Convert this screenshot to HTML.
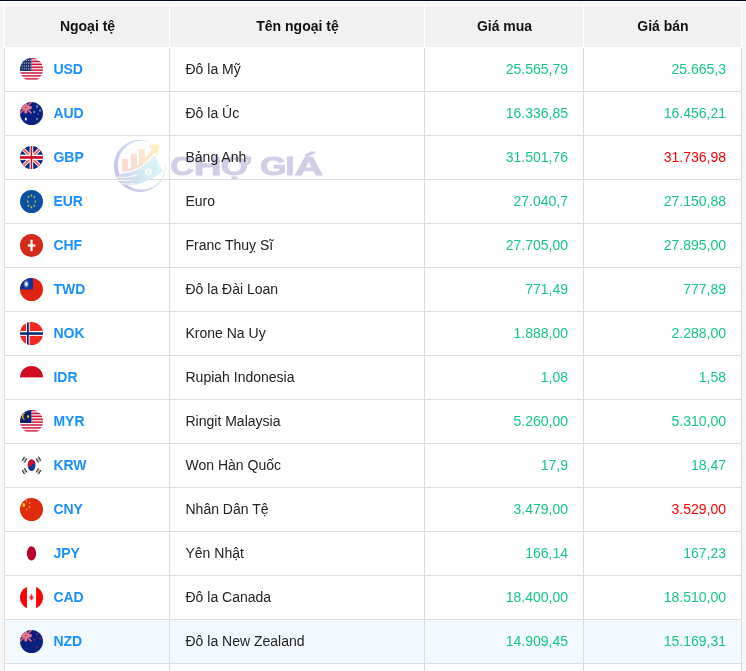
<!DOCTYPE html>
<html lang="vi">
<head>
<meta charset="utf-8">
<title>Tỷ giá ngoại tệ</title>
<style>
html,body{margin:0;padding:0;}
body{width:746px;height:671px;overflow:hidden;background:#f6f6f6;font-family:"Liberation Sans",Arial,sans-serif;font-size:14px;color:#222;position:relative;}
.topbar{position:absolute;left:0;top:0;width:746px;height:1px;background:#000c1e;}
.topbar:after{content:"";position:absolute;left:0;top:1px;width:746px;height:1px;background:#fff;}
.wrap{position:absolute;left:4px;top:5px;width:738px;height:666px;background:#fff;overflow:visible;}
.hdr,.row{display:flex;box-sizing:border-box;width:738px;}
.hdr{height:43px;}
.row{height:44px;}
.c{box-sizing:border-box;height:100%;}
.hdr .c{background:#f1f1f1;border:1px solid #fff;border-right:none;font-weight:bold;color:#111;text-align:center;line-height:41px;}
.hdr .c4{border-right:1px solid #fff;}
.hdr .c{padding-left:1px;}
.row .c{border-left:1px solid #ddd;border-bottom:1px solid #ddd;line-height:43px;padding:0 15px;white-space:nowrap;}
.row .c2{padding-left:15.5px;}
.row .c4{border-right:1px solid #ddd;}
.c1{width:165px;}
.c2{width:255px;}
.c3{width:159px;}
.c4{width:159px;}
.row .c3,.row .c4{text-align:right;}
.row .c1{display:flex;align-items:center;}
.flag{display:block;width:23px;height:23px;flex:none;margin-right:10.4px;border-radius:50%;overflow:hidden;}
.flag svg{display:block;width:23px;height:23px;}
.code{font-weight:bold;color:#1890ff;}
.g{color:#16c784;}
.r{color:#ff0000;}
.hl .c{background:#f2f9ff;}
.wm{position:absolute;left:-4px;top:-5px;pointer-events:none;z-index:0;}
.hdr,.row{position:relative;z-index:1;}
</style>
</head>
<body>
<div class="topbar"></div>
<div class="wrap">
<svg class="wm" width="746" height="671" viewBox="0 0 746 671"><defs><linearGradient id="wg1" gradientUnits="userSpaceOnUse" x1="116" y1="178" x2="160" y2="150"><stop offset="0" stop-color="#c8c5e5"/><stop offset="0.5" stop-color="#cdd8ee"/><stop offset="1" stop-color="#cbeff4"/></linearGradient><linearGradient id="wg2" gradientUnits="userSpaceOnUse" x1="122" y1="172" x2="160" y2="145"><stop offset="0" stop-color="#fbd2d4"/><stop offset="0.5" stop-color="#fde3d0"/><stop offset="1" stop-color="#fff2c4"/></linearGradient><linearGradient id="wg3" gradientUnits="userSpaceOnUse" x1="116" y1="180" x2="160" y2="165"><stop offset="0" stop-color="#cfcbe9"/><stop offset="0.45" stop-color="#d2e6f3"/><stop offset="1" stop-color="#d6f2f6"/></linearGradient></defs><path fill-rule="evenodd" fill="url(#wg1)" d="M113.75 165.90 a26.1 26.1 0 1 0 52.20 0 a26.1 26.1 0 1 0 -52.20 0Z M117.75 165.20 a23.9 24.4 0 1 0 47.8 0 a23.9 24.4 0 1 0 -47.8 0Z"/><path d="M150.10 142.88 A25.2 25.2 0 0 1 164.91 163.27" stroke="#fff" stroke-width="3.4" fill="none" stroke-linecap="round"/><path fill="url(#wg2)" d="M122.3 159.1 H128.1 V169.3 L130.8 168.6 V153.9 H137 V166.3 L138.8 165.3 V149 H144.8 V158.2 Q149 154.6 151.9 149.6 L148.9 145.3 L160 144 L157.6 155.8 L154.7 153 Q148.5 160.6 142 165.6 Q133 171.8 122.3 171.9Z"/><path fill="url(#wg3)" d="M154.7 155.2 L162.3 171.5 Q152 180.5 136 184.6 Q126 186.3 118.6 181.6 L116.6 177.4 Q118 174.4 122.5 173.4 Q134 172.6 142.6 166.8 Q149 161.6 154.7 155.2Z"/><path d="M116.9 177.2 Q126 178.6 136.5 175.2" stroke="#fff" stroke-width="0.9" fill="none"/><path d="M118.2 180.4 Q127 181.6 135.6 179.4" stroke="#fff" stroke-width="0.9" fill="none"/><path d="M121 183.6 Q128 184.8 134 183.4" stroke="#fff" stroke-width="0.7" fill="none"/><path d="M140.5 170.4 Q148.5 165.6 154.2 158.6 L159.9 171 Q152 177 142.5 180.3" stroke="#fff" stroke-width="0.8" stroke-dasharray="1.2 0.9" fill="none" opacity="0.95"/><path d="M144 170.2 Q149.5 166.4 153.4 161.6" stroke="#fff" stroke-width="0.6" stroke-dasharray="0.9 0.9" fill="none" opacity="0.8"/><circle cx="148.3" cy="171.8" r="3.5" fill="#fbfdfb"/><text x="148.3" y="173.8" font-family="Liberation Sans,Arial,sans-serif" font-weight="bold" font-size="5.6" text-anchor="middle" fill="#d9eecf">$</text><text class="wmt" y="175.4" font-family="Liberation Sans,Arial,sans-serif" font-weight="bold" font-size="26.3" fill="#d0cee5" stroke="#d0cee5" stroke-width="0.8" stroke-linejoin="round" xml:space="preserve"><tspan x="170.25" textLength="23.85" lengthAdjust="spacingAndGlyphs">C</tspan><tspan x="193.80" textLength="27.91" lengthAdjust="spacingAndGlyphs">H</tspan><tspan x="220.70" textLength="29.87" lengthAdjust="spacingAndGlyphs">Ợ</tspan><tspan x="250.0"> </tspan><tspan x="260.02" textLength="26.68" lengthAdjust="spacingAndGlyphs">G</tspan><tspan x="285.31" textLength="9.32" lengthAdjust="spacingAndGlyphs">I</tspan><tspan x="294.51" textLength="28.62" lengthAdjust="spacingAndGlyphs">Á</tspan></text></svg>
<div class="hdr"><div class="c c1">Ngoại tệ</div><div class="c c2">Tên ngoại tệ</div><div class="c c3">Giá mua</div><div class="c c4">Giá bán</div></div>
<div class="row"><div class="c c1"><span class="flag"><svg viewBox="0 0 23 23" width="23" height="23"><rect width="23" height="23" fill="#fff"/><rect x="11.4" y="0" width="11.6" height="13.4" fill="#f6d3d9"/><rect x="11.4" y="-0.15" width="11.6" height="1.35" fill="#cc1236"/><rect x="11.4" y="2.75" width="11.6" height="1.35" fill="#cc1236"/><rect x="11.4" y="5.65" width="11.6" height="1.35" fill="#cc1236"/><rect x="11.4" y="8.55" width="11.6" height="1.35" fill="#cc1236"/><rect x="11.4" y="11.45" width="11.6" height="1.35" fill="#cc1236"/><rect x="0" y="14.10" width="23" height="1.8" fill="#d33c58"/><rect x="0" y="17.00" width="23" height="1.8" fill="#d33c58"/><rect x="0" y="19.90" width="23" height="1.8" fill="#d33c58"/><rect x="0" y="0" width="11.4" height="13" fill="#1b2f6e"/><rect x="1.85" y="1.70" width="0.9" height="1.4" fill="#fff" opacity="0.62"/><rect x="3.85" y="1.70" width="0.9" height="1.4" fill="#fff" opacity="0.62"/><rect x="5.95" y="1.70" width="0.9" height="1.4" fill="#fff" opacity="0.62"/><rect x="7.95" y="1.70" width="0.9" height="1.4" fill="#fff" opacity="0.62"/><rect x="9.75" y="1.70" width="0.9" height="1.4" fill="#fff" opacity="0.62"/><rect x="1.85" y="4.50" width="0.9" height="1.4" fill="#fff" opacity="0.62"/><rect x="3.85" y="4.50" width="0.9" height="1.4" fill="#fff" opacity="0.62"/><rect x="5.95" y="4.50" width="0.9" height="1.4" fill="#fff" opacity="0.62"/><rect x="7.95" y="4.50" width="0.9" height="1.4" fill="#fff" opacity="0.62"/><rect x="9.75" y="4.50" width="0.9" height="1.4" fill="#fff" opacity="0.62"/><rect x="1.85" y="7.30" width="0.9" height="1.4" fill="#fff" opacity="0.62"/><rect x="3.85" y="7.30" width="0.9" height="1.4" fill="#fff" opacity="0.62"/><rect x="5.95" y="7.30" width="0.9" height="1.4" fill="#fff" opacity="0.62"/><rect x="7.95" y="7.30" width="0.9" height="1.4" fill="#fff" opacity="0.62"/><rect x="9.75" y="7.30" width="0.9" height="1.4" fill="#fff" opacity="0.62"/><rect x="1.85" y="10.10" width="0.9" height="1.4" fill="#fff" opacity="0.62"/><rect x="3.85" y="10.10" width="0.9" height="1.4" fill="#fff" opacity="0.62"/><rect x="5.95" y="10.10" width="0.9" height="1.4" fill="#fff" opacity="0.62"/><rect x="7.95" y="10.10" width="0.9" height="1.4" fill="#fff" opacity="0.62"/><rect x="9.75" y="10.10" width="0.9" height="1.4" fill="#fff" opacity="0.62"/></svg></span><a class="code">USD</a></div><div class="c c2">Đô la Mỹ</div><div class="c c3 g">25.565,79</div><div class="c c4 g">25.665,3</div></div>
<div class="row"><div class="c c1"><span class="flag"><svg viewBox="0 0 23 23" width="23" height="23"><rect width="23" height="23" fill="#0a2081"/><g opacity="0.95"><path d="M0 0 L11.5 11.3 M11.5 0 L0 11.3" stroke="#e8607a" stroke-width="1.7" fill="none"/><rect x="0" y="4.1" width="11.5" height="3.1" fill="#f59aa4"/><rect x="4.5" y="0" width="2.6" height="11.3" fill="#f59aa4"/><rect x="0" y="5.0" width="11.5" height="1.3" fill="#ef6f83"/><rect x="5.2" y="0" width="1.2" height="11.3" fill="#ef6f83"/><ellipse cx="5.8" cy="5.6" rx="0.9" ry="1.0" fill="#e33c5c"/></g><ellipse cx="5.8" cy="17.0" rx="1.0" ry="1.6" fill="#fff"/><ellipse cx="17" cy="4.4" rx="0.9" ry="1.3" fill="#fff" opacity="0.5"/><ellipse cx="20.1" cy="8.5" rx="0.9" ry="1.3" fill="#fff" opacity="0.5"/><ellipse cx="14.3" cy="10" rx="0.9" ry="1.3" fill="#fff" opacity="0.5"/><ellipse cx="18.4" cy="12.1" rx="0.55" ry="0.8" fill="#fff" opacity="0.35"/><ellipse cx="17" cy="17" rx="0.9" ry="1.3" fill="#fff" opacity="0.5"/></svg></span><a class="code">AUD</a></div><div class="c c2">Đô la Úc</div><div class="c c3 g">16.336,85</div><div class="c c4 g">16.456,21</div></div>
<div class="row"><div class="c c1"><span class="flag"><svg viewBox="0 0 23 23" width="23" height="23"><rect width="23" height="23" fill="#0a2580"/><path d="M0 0 L23 23 M23 0 L0 23" stroke="#fff" stroke-width="3.7" fill="none"/><path d="M0 0 L23 23 M23 0 L0 23" stroke="#e6614f" stroke-width="1.9" fill="none"/><rect x="0" y="8.7" width="23" height="5.4" fill="#fff"/><rect x="9.6" y="0" width="3.6" height="23" fill="#fff"/><rect x="0" y="10.1" width="23" height="2.7" fill="#d00c27"/><rect x="10.7" y="0" width="1.5" height="23" fill="#d00c27"/></svg></span><a class="code">GBP</a></div><div class="c c2">Bảng Anh</div><div class="c c3 g">31.501,76</div><div class="c c4 r">31.736,98</div></div>
<div class="row"><div class="c c1"><span class="flag"><svg viewBox="0 0 23 23" width="23" height="23"><rect width="23" height="23" fill="#0b50a4"/><ellipse cx="11.4" cy="5.6" rx="0.8" ry="1.25" fill="#b4c33c" opacity="0.9"/><ellipse cx="8.5" cy="6.95" rx="0.8" ry="1.25" fill="#b4c33c" opacity="0.9"/><ellipse cx="14.3" cy="6.95" rx="0.8" ry="1.25" fill="#b4c33c" opacity="0.9"/><ellipse cx="7.7" cy="11.4" rx="0.8" ry="1.25" fill="#b4c33c" opacity="0.9"/><ellipse cx="15.3" cy="11.4" rx="0.8" ry="1.25" fill="#b4c33c" opacity="0.9"/><ellipse cx="8.5" cy="15.7" rx="0.8" ry="1.25" fill="#b4c33c" opacity="0.9"/><ellipse cx="14.3" cy="15.7" rx="0.8" ry="1.25" fill="#b4c33c" opacity="0.9"/><ellipse cx="11.4" cy="17.2" rx="0.8" ry="1.25" fill="#b4c33c" opacity="0.9"/></svg></span><a class="code">EUR</a></div><div class="c c2">Euro</div><div class="c c3 g">27.040,7</div><div class="c c4 g">27.150,88</div></div>
<div class="row"><div class="c c1"><span class="flag"><svg viewBox="0 0 23 23" width="23" height="23"><rect width="23" height="23" fill="#d7291a"/><rect x="10.4" y="5.8" width="2.2" height="11.4" fill="#fff"/><rect x="7.8" y="10.4" width="7.5" height="2.2" fill="#fff"/></svg></span><a class="code">CHF</a></div><div class="c c2">Franc Thuỵ Sĩ</div><div class="c c3 g">27.705,00</div><div class="c c4 g">27.895,00</div></div>
<div class="row"><div class="c c1"><span class="flag"><svg viewBox="0 0 23 23" width="23" height="23"><rect width="23" height="23" fill="#e0220f"/><rect x="0" y="0" width="13" height="11.4" fill="#0a32a0"/><ellipse cx="6.3" cy="6.0" rx="2.5" ry="3.7" fill="#8fa8d8" opacity="0.45"/><ellipse cx="6.3" cy="6.0" rx="1.8" ry="2.6" fill="#c8d6ee" opacity="0.6"/><ellipse cx="6.3" cy="6.0" rx="1.2" ry="1.7" fill="#fff"/></svg></span><a class="code">TWD</a></div><div class="c c2">Đô la Đài Loan</div><div class="c c3 g">771,49</div><div class="c c4 g">777,89</div></div>
<div class="row"><div class="c c1"><span class="flag"><svg viewBox="0 0 23 23" width="23" height="23"><rect width="23" height="23" fill="#f12a21"/><rect x="6.0" y="0" width="3.6" height="23" fill="#fff"/><rect x="0" y="9.0" width="23" height="4.9" fill="#fff"/><rect x="6.95" y="0" width="1.75" height="23" fill="#06236b"/><rect x="0" y="10.3" width="23" height="2.5" fill="#06236b"/></svg></span><a class="code">NOK</a></div><div class="c c2">Krone Na Uy</div><div class="c c3 g">1.888,00</div><div class="c c4 g">2.288,00</div></div>
<div class="row"><div class="c c1"><span class="flag"><svg viewBox="0 0 23 23" width="23" height="23"><rect width="23" height="23" fill="#fff"/><rect width="23" height="11.4" fill="#ce0b1f"/></svg></span><a class="code">IDR</a></div><div class="c c2">Rupiah Indonesia</div><div class="c c3 g">1,08</div><div class="c c4 g">1,58</div></div>
<div class="row"><div class="c c1"><span class="flag"><svg viewBox="0 0 23 23" width="23" height="23"><rect width="23" height="23" fill="#fff"/><rect x="11.4" y="0" width="11.6" height="13.4" fill="#f6d3d9"/><rect x="11.4" y="-0.15" width="11.6" height="1.35" fill="#cc1236"/><rect x="11.4" y="2.75" width="11.6" height="1.35" fill="#cc1236"/><rect x="11.4" y="5.65" width="11.6" height="1.35" fill="#cc1236"/><rect x="11.4" y="8.55" width="11.6" height="1.35" fill="#cc1236"/><rect x="11.4" y="11.45" width="11.6" height="1.35" fill="#cc1236"/><rect x="0" y="14.10" width="23" height="1.8" fill="#d33c58"/><rect x="0" y="17.00" width="23" height="1.8" fill="#d33c58"/><rect x="0" y="19.90" width="23" height="1.8" fill="#d33c58"/><rect x="0" y="0" width="11.4" height="13" fill="#0a1f6e"/><path d="M5.2 3.0 A2.6 3.6 0 1 0 5.2 10.0 A3.3 3.9 0 0 1 5.2 3.0Z" fill="#e9b90c"/><ellipse cx="8.1" cy="6.4" rx="1.1" ry="1.5" fill="#e9b90c"/></svg></span><a class="code">MYR</a></div><div class="c c2">Ringit Malaysia</div><div class="c c3 g">5.260,00</div><div class="c c4 g">5.310,00</div></div>
<div class="row"><div class="c c1"><span class="flag"><svg viewBox="0 0 23 23" width="23" height="23"><rect width="23" height="23" fill="#fff"/><ellipse cx="11.6" cy="11.25" rx="3.85" ry="5.85" fill="#0a3c95"/><path d="M7.76 11.7 A3.85 5.85 0 0 1 15.44 10.8 C14.7 9.0 12.7 9.3 11.6 11.25 C10.5 13.2 8.5 13.5 7.76 11.7Z" fill="#cf0a2c"/><path d="M1.60 6.25 L3.90 2.15 L7.40 4.95 L5.10 9.05Z" fill="#666" opacity="0.45"/><g stroke="#111" stroke-width="1.0" opacity="0.85" fill="none"><path d="M2.16 6.70 L4.46 2.60"/><path d="M4.54 8.60 L6.84 4.50"/></g><path d="M21.40 6.25 L19.10 2.15 L15.60 4.95 L17.90 9.05Z" fill="#666" opacity="0.45"/><g stroke="#111" stroke-width="1.0" opacity="0.85" fill="none"><path d="M20.84 6.70 L18.54 2.60"/><path d="M18.46 8.60 L16.16 4.50"/></g><path d="M1.60 16.55 L3.90 20.65 L7.40 17.85 L5.10 13.75Z" fill="#666" opacity="0.45"/><g stroke="#111" stroke-width="1.0" opacity="0.85" fill="none"><path d="M2.16 16.10 L4.46 20.20"/><path d="M4.54 14.20 L6.84 18.30"/></g><path d="M21.40 16.55 L19.10 20.65 L15.60 17.85 L17.90 13.75Z" fill="#666" opacity="0.45"/><g stroke="#111" stroke-width="1.0" opacity="0.85" fill="none"><path d="M20.84 16.10 L18.54 20.20"/><path d="M18.46 14.20 L16.16 18.30"/></g></svg></span><a class="code">KRW</a></div><div class="c c2">Won Hàn Quốc</div><div class="c c3 g">17,9</div><div class="c c4 g">18,47</div></div>
<div class="row"><div class="c c1"><span class="flag"><svg viewBox="0 0 23 23" width="23" height="23"><rect width="23" height="23" fill="#df2a10"/><ellipse cx="3.8" cy="7.0" rx="1.3" ry="1.9" fill="#ffd400"/><ellipse cx="6.7" cy="2.9" rx="0.8" ry="1.2" fill="#f59a0c" opacity="0.85"/><ellipse cx="9.6" cy="4.9" rx="0.8" ry="1.2" fill="#f59a0c" opacity="0.85"/><ellipse cx="9.6" cy="9.2" rx="0.8" ry="1.2" fill="#f59a0c" opacity="0.85"/><ellipse cx="6.7" cy="11.4" rx="0.8" ry="1.2" fill="#f59a0c" opacity="0.85"/></svg></span><a class="code">CNY</a></div><div class="c c2">Nhân Dân Tệ</div><div class="c c3 g">3.479,00</div><div class="c c4 r">3.529,00</div></div>
<div class="row"><div class="c c1"><span class="flag"><svg viewBox="0 0 23 23" width="23" height="23"><rect width="23" height="23" fill="#fff"/><ellipse cx="11.5" cy="11.45" rx="4.6" ry="7.15" fill="#bc002d"/></svg></span><a class="code">JPY</a></div><div class="c c2">Yên Nhật</div><div class="c c3 g">166,14</div><div class="c c4 g">167,23</div></div>
<div class="row"><div class="c c1"><span class="flag"><svg viewBox="0 0 23 23" width="23" height="23"><rect width="23" height="23" fill="#fff"/><rect width="6.95" height="23" fill="#ff0000"/><rect x="16.1" width="6.9" height="23" fill="#ff0000"/><path d="M11.45 7.6 L12.5 9.9 L13.7 11.2 L12.4 13.2 L11.45 14.6 L10.5 13.2 L9.2 11.2 L10.4 9.9Z" fill="#ff1a1a" stroke="#ff9a9a" stroke-width="0.6" stroke-linejoin="round"/></svg></span><a class="code">CAD</a></div><div class="c c2">Đô la Canada</div><div class="c c3 g">18.400,00</div><div class="c c4 g">18.510,00</div></div>
<div class="row hl"><div class="c c1"><span class="flag"><svg viewBox="0 0 23 23" width="23" height="23"><rect width="23" height="23" fill="#0a2081"/><g opacity="0.95"><path d="M0 0 L11.5 11.3 M11.5 0 L0 11.3" stroke="#e8607a" stroke-width="1.7" fill="none"/><rect x="0" y="4.1" width="11.5" height="3.1" fill="#f59aa4"/><rect x="4.5" y="0" width="2.6" height="11.3" fill="#f59aa4"/><rect x="0" y="5.0" width="11.5" height="1.3" fill="#ef6f83"/><rect x="5.2" y="0" width="1.2" height="11.3" fill="#ef6f83"/><ellipse cx="5.8" cy="5.6" rx="0.9" ry="1.0" fill="#e33c5c"/></g><ellipse cx="17" cy="4.3" rx="0.9" ry="1.3" fill="#8a1f5c" opacity="0.9"/><ellipse cx="20.1" cy="8.5" rx="0.9" ry="1.3" fill="#8a1f5c" opacity="0.9"/><ellipse cx="14.3" cy="9.9" rx="0.9" ry="1.3" fill="#8a1f5c" opacity="0.9"/><ellipse cx="17" cy="17" rx="0.9" ry="1.3" fill="#8a1f5c" opacity="0.9"/></svg></span><a class="code">NZD</a></div><div class="c c2">Đô la New Zealand</div><div class="c c3 g">14.909,45</div><div class="c c4 g">15.169,31</div></div>
<div class="row last"><div class="c c1"></div><div class="c c2"></div><div class="c c3"></div><div class="c c4"></div></div>
</div>
</body>
</html>
